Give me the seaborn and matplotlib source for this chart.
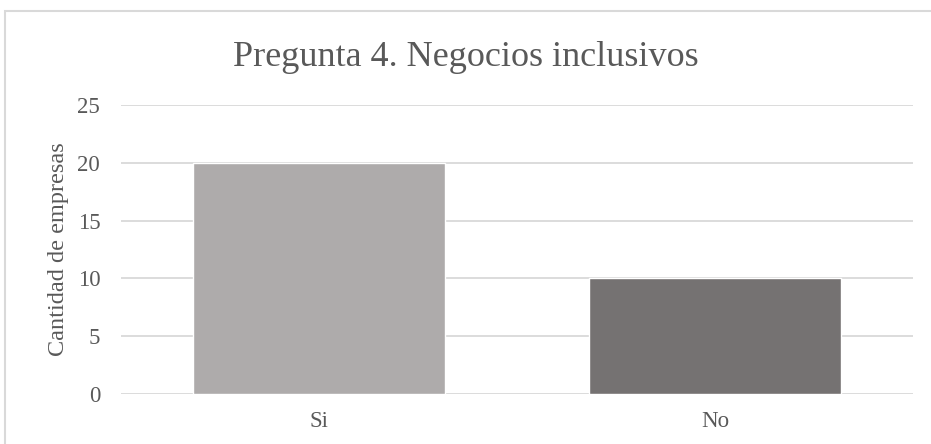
import matplotlib.pyplot as plt
import matplotlib.patches as patches
import seaborn as sns
import pandas as pd

categorias = ['Si', 'No']
empresas = [20, 10]
colores = ['#AEAAAA', '#767171']

df = pd.DataFrame({'respuesta': categorias, 'cantidad': empresas})

sns.set_style('white')
plt.rcParams['font.family'] = ['Liberation Serif', 'DejaVu Serif']

fig = plt.figure(figsize=(9.31, 4.44), dpi=100)
ax = fig.add_axes([0.13, 0.1126, 0.851, 0.651])

sns.barplot(x='respuesta', y='cantidad', data=df, hue='respuesta', palette=colores,
            width=0.636, legend=False, ax=ax, zorder=3)

ax.set_ylim(0, 25)
ax.set_xlim(-0.5, 1.5)
ax.set_yticks(range(0, 26, 5))
ax.yaxis.grid(True, color='#D9D9D9', linewidth=1.3, zorder=0)
ax.set_axisbelow(True)
for s in ax.spines.values():
    s.set_visible(False)
ax.tick_params(axis='both', length=0, labelsize=16.5, labelcolor='#595959')
ax.tick_params(axis='x', pad=12)
ax.tick_params(axis='y', pad=15)
ax.set_xlabel('')
ax.set_ylabel('Cantidad de empresas', fontsize=17.5, color='#595959', labelpad=6)

fig.text(0.5, 0.87, 'Pregunta 4. Negocios inclusivos', ha='center', va='center',
         fontsize=26, color='#595959')

# marco del grafico
fig.patches.append(patches.Rectangle((4.5 / 931, -0.1), 1.2, 1 - 11.5 / 444 + 0.1,
                                     transform=fig.transFigure, fill=False,
                                     edgecolor='#D9D9D9', linewidth=1.5))

plt.savefig('out.png', dpi=100)
